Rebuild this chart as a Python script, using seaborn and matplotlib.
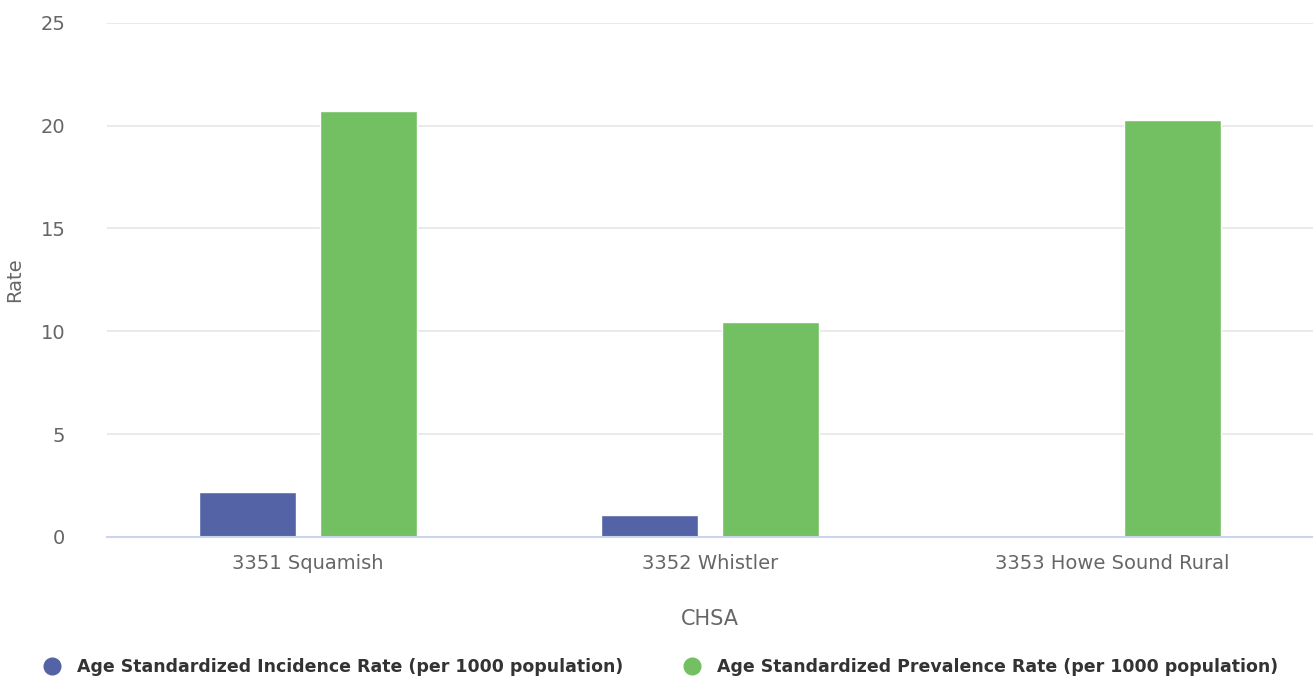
import numpy as np
import pandas as pd
import matplotlib
matplotlib.use("Agg")
import matplotlib.pyplot as plt
from matplotlib.lines import Line2D
import seaborn as sns

categories = ["3351 Squamish", "3352 Whistler", "3353 Howe Sound Rural"]
series_names = ["Age Standardized Incidence Rate (per 1000 population)",
                "Age Standardized Prevalence Rate (per 1000 population)"]
incidence = [2.17, 1.06, np.nan]
prevalence = [20.72, 10.44, 20.27]
colors = ["#5463a6", "#73c063"]

df = pd.DataFrame({
    "CHSA": categories * 2,
    "Series": [series_names[0]] * 3 + [series_names[1]] * 3,
    "Rate": incidence + prevalence,
})

sns.set_theme(style="white")
plt.rcParams["font.family"] = ["DejaVu Sans"]

fig = plt.figure(figsize=(13.13, 6.8), dpi=100)
ax = fig.add_axes([107 / 1313, 1 - 537 / 680, 1 - 107 / 1313, (537 - 22.7) / 680])

sns.barplot(data=df, x="CHSA", y="Rate", hue="Series", hue_order=series_names,
            order=categories, palette=colors, width=0.6, gap=0.2,
            edgecolor="white", linewidth=1, saturation=1, ax=ax, legend=False)

ax.set_ylim(0, 25)
ax.set_xlim(-0.5, 2.5)
ax.set_yticks([0, 5, 10, 15, 20, 25])
ax.yaxis.grid(True, color="#e6e6e6", linewidth=1.2)
ax.set_axisbelow(True)
for s in ["top", "right", "left"]:
    ax.spines[s].set_visible(False)
ax.spines["bottom"].set_color("#ccd6eb")
ax.spines["bottom"].set_linewidth(1.5)
ax.tick_params(axis="both", length=0, labelsize=14, labelcolor="#666666")
ax.tick_params(axis="x", pad=12)
ax.tick_params(axis="y", pad=30)
ax.set_xlabel("CHSA", fontsize=15, color="#666666", labelpad=26)
ax.set_ylabel("Rate", fontsize=14, color="#666666", labelpad=12)

handles = [Line2D([0], [0], marker="o", linestyle="", markersize=12,
                  markerfacecolor=c, markeredgecolor=c) for c in colors]
leg = fig.legend(handles, series_names, loc="center", bbox_to_anchor=(0.5, 1 - 667 / 680),
                 ncol=2, frameon=False, handletextpad=0.4, columnspacing=3.0,
                 prop={"size": 12.5, "weight": "semibold"})
for t in leg.get_texts():
    t.set_color("#333333")

fig.savefig("out.png", dpi=100)
